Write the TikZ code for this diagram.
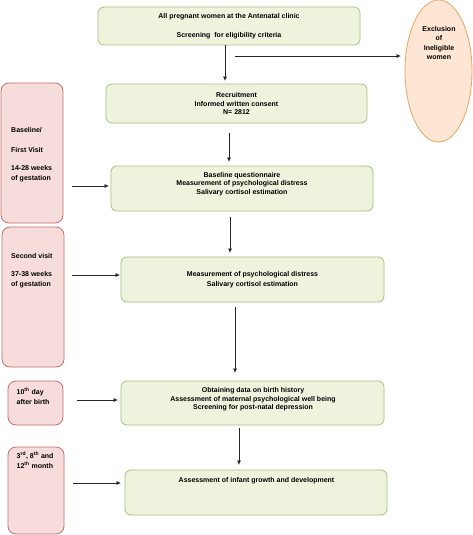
\documentclass[tikz,border=0pt]{standalone}
\usepackage{fontspec}
\setmainfont{Liberation Sans}
\usetikzlibrary{arrows.meta,shapes.geometric}
\definecolor{gfill}{HTML}{EEF3DE}
\definecolor{gline}{HTML}{A8C080}
\definecolor{pfill}{HTML}{F7DCDC}
\definecolor{pline}{HTML}{C07070}
\definecolor{efill}{HTML}{FDE6D4}
\definecolor{eline}{HTML}{E9A462}
\begin{document}
\begin{tikzpicture}[x=1pt,y=-1pt,
  gbox/.style={draw=gline, fill=gfill, rounded corners=6pt, line width=0.8pt, inner sep=0pt, align=center, font=\fontsize{7}{8.5}\selectfont\bfseries},
  pbox/.style={draw=pline, fill=pfill, rounded corners=8pt, line width=0.8pt, inner sep=0pt},
  ebox/.style={ellipse, draw=eline, fill=efill, line width=0.8pt, inner sep=0pt},
  gtxt/.style={inner sep=0pt, align=center, font=\fontsize{7}{8.5}\selectfont\bfseries},
  ptxt/.style={inner sep=0pt, align=left, anchor=north west, font=\fontsize{7}{10}\selectfont\bfseries},
  etxt/.style={inner sep=0pt, align=center, font=\fontsize{7}{9.3}\selectfont\bfseries},
  arr/.style={draw=black!85, line width=0.7pt, -{Triangle[length=4pt,width=3.5pt]}}]
\useasboundingbox (0,0) rectangle (473,535);
\fill[white] (0,0) rectangle (473,535);

% green boxes
\node[gbox, minimum width=262pt, minimum height=38pt] (b1) at (229,26)
  {All pregnant women at the Antenatal clinic\\[10.5pt]Screening\ \ for eligibility criteria};
\node[gbox, minimum width=261pt, minimum height=39pt] (b2) at (236.5,103.5)
  {Recruitment\\Informed written consent\\N= 2812};
\node[gbox, minimum width=262pt, minimum height=45pt] (b3) at (242,188.5) {};
\node[gtxt] (t3) at (242,184) {Baseline questionnaire\\Measurement of psychological distress\\Salivary cortisol estimation};
\node[gbox, minimum width=263pt, minimum height=45pt] (b4) at (252.5,279.5)
  {Measurement of psychological distress\\[1.5pt]Salivary cortisol estimation};
\node[gbox, minimum width=263pt, minimum height=44pt] (b5) at (252.5,403) {};
\node[gtxt] (t5) at (253,399.5) {Obtaining data on birth history\\Assessment of maternal psychological well being\\Screening for post-natal depression};
\node[gbox, minimum width=262pt, minimum height=45pt] (b6) at (256,492.5) {};
\node[gtxt] (t6) at (256.5,481) {Assessment of infant growth and development};

% exclusion ellipse
\node[ebox, minimum width=67pt, minimum height=142pt] (ex) at (438.5,71) {};
\node[etxt] (tex) at (439,43) {Exclusion\\of\\Ineligible\\women};

% pink boxes
\node[pbox, minimum width=62pt, minimum height=140pt] (p1) at (32,153) {};
\node[ptxt] (tp1) at (11,127.5) {Baseline/\\[10pt]First Visit\\[8pt]14-28 weeks\\of gestation};
\node[pbox, minimum width=62pt, minimum height=140pt] (p2) at (33,297) {};
\node[ptxt] (tp2) at (11,253.5) {Second visit\\[8pt]37-38 weeks\\of gestation};
\node[pbox, minimum width=55pt, minimum height=44pt] (p3) at (35.5,403) {};
\node[ptxt] (tp3) at (16.5,387.5) {10\textsuperscript{th} day\\after birth};
\node[pbox, minimum width=56pt, minimum height=87pt] (p4) at (36,490.5) {};
\node[ptxt] (tp4) at (16.5,452) {3\textsuperscript{rd}, 8\textsuperscript{th} and\\12\textsuperscript{th} month};

% helper coordinates
\coordinate (v1) at (225,0);
\coordinate (v2) at (229,0);
\coordinate (v3) at (230,0);
\coordinate (v4) at (235,0);
\coordinate (v5) at (239,0);
\coordinate (h0) at (235,56);
\coordinate (r1) at (0,186);
\coordinate (r2) at (0,275);
\coordinate (r3) at (0,400);
\coordinate (r4) at (0,483);

% vertical arrows
\draw[arr, shorten >=3pt] (b1.south -| v1) -- (b2.north -| v1);
\draw[arr, shorten <=10pt, shorten >=4pt] (b2.south -| v2) -- (b3.north -| v2);
\draw[arr, shorten <=6pt, shorten >=4pt] (b3.south -| v3) -- (b4.north -| v3);
\draw[arr, shorten <=5pt, shorten >=8pt] (b4.south -| v4) -- (b5.north -| v4);
\draw[arr, shorten <=3pt, shorten >=5pt] (b5.south -| v5) -- (b6.north -| v5);

% to exclusion
\draw[arr, shorten >=4pt] (h0) -- (h0 -| ex.west);

% left arrows
\draw[arr, shorten <=9pt, shorten >=2pt] (p1.east |- r1) -- (b3.west |- r1);
\draw[arr, shorten <=8pt, shorten >=1pt] (p2.east |- r2) -- (b4.west |- r2);
\draw[arr, shorten <=14pt, shorten >=3pt] (p3.east |- r3) -- (b5.west |- r3);
\draw[arr, shorten <=9pt, shorten >=4pt] (p4.east |- r4) -- (b6.west |- r4);
\end{tikzpicture}
\end{document}
